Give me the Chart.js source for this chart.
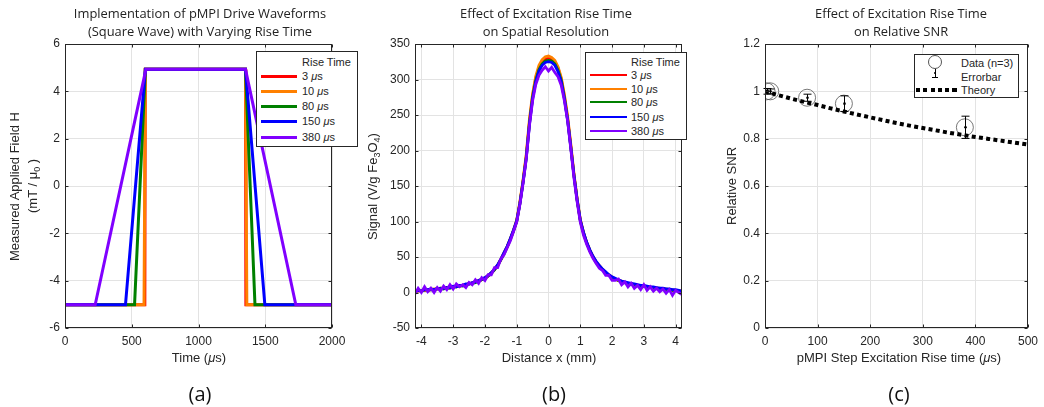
<!DOCTYPE html>
<html><head><meta charset="utf-8">
<script src="https://cdn.jsdelivr.net/npm/chart.js@4.4.1/dist/chart.umd.min.js"></script>
<style>
html,body{margin:0;padding:0;background:#fff}
body{width:1044px;height:407px;overflow:hidden;position:relative;font-family:"Liberation Sans",Arial,sans-serif;color:#262626}
canvas{position:absolute;left:0;top:0}
.t{position:absolute;top:5px;font-family:"Open Sans",sans-serif;font-size:12.9px;text-align:center;line-height:17.5px;white-space:nowrap;transform:translateX(-50%);color:#222}
.lab{position:absolute;font-family:"Open Sans",sans-serif;font-size:20px;transform:translate(-50%,-50%);color:#111}
.ax{position:absolute;font-size:13px;white-space:nowrap;transform:translate(-50%,-50%)}
.ay{position:absolute;font-size:13px;white-space:nowrap;line-height:16px;transform-origin:0 0}
.leg{position:absolute;background:#fff;border:1px solid #262626;font-size:11px;box-sizing:border-box;z-index:5}
.leg span{position:absolute;white-space:nowrap;transform:translateY(-50%)}
.leg div{position:absolute}
sub{font-size:9px;vertical-align:-3px;line-height:0}
</style>
</head><body>
<canvas id="ca" width="1044" height="407"></canvas>
<canvas id="cb" width="1044" height="407"></canvas>
<canvas id="cc" width="1044" height="407"></canvas>

<div class="t" style="left:200px">Implementation of pMPI Drive Waveforms<br>(Square Wave) with Varying Rise Time</div>
<div class="t" style="left:546px">Effect of Excitation Rise Time<br>on Spatial Resolution</div>
<div class="t" style="left:901px">Effect of Excitation Rise Time<br>on Relative SNR</div>

<div class="ax" style="left:199px;top:357px">Time (<i>μ</i>s)</div>
<div class="ax" style="left:549px;top:357px">Distance x (mm)</div>
<div class="ax" style="left:899px;top:357px">pMPI Step Excitation Rise time (<i>μ</i>s)</div>

<div class="ay" data-cx="15" data-cy="186">Measured Applied Field H</div>
<div class="ay" data-cx="33" data-cy="186">(mT / μ<sub>0</sub> )</div>
<div class="ay" data-cx="373" data-cy="186">Signal (V/g Fe<sub>3</sub>O<sub>4</sub>)</div>
<div class="ay" data-cx="732" data-cy="186">Relative SNR</div>

<div class="lab" style="left:200px;top:393px">(a)</div>
<div class="lab" style="left:554px;top:393px">(b)</div>
<div class="lab" style="left:899px;top:393px">(c)</div>

<div class="leg" style="left:914px;top:54px;width:105px;height:44px">
  <div style="left:13px;top:0px;width:14px;height:14px;border:0.8px solid #555;border-radius:50%;box-sizing:border-box"></div>
  <div style="left:19.5px;top:14px;width:1px;height:9px;background:#000"></div>
  <div style="left:17px;top:22px;width:6px;height:1px;background:#000"></div>
  <div style="left:18.8px;top:16.5px;width:2.5px;height:2.5px;background:#000;border-radius:50%"></div>
  <span style="left:46px;top:8px">Data (n=3)</span>
  <span style="left:46px;top:22px">Errorbar</span>
  <div style="left:1px;top:33px;width:42px;height:4px;background:repeating-linear-gradient(to right,#000 0 4px,transparent 4px 7.3px)"></div>
  <span style="left:46px;top:35px">Theory</span>
</div>

<script>
// ---------- data ----------
const riseLabels = ['3', '10', '80', '150', '380'];
const riseColors = ['#ff0000', '#ff8000', '#008000', '#0000ff', '#8000ff'];

// (a) drive waveforms: corner times (µs) and field levels (mT/µ0)
const wave3T   = [0, 598, 601, 1352, 1355, 2000];
const wave10T  = [0, 592, 602, 1352, 1362, 2000];
const wave80T  = [0, 521, 602, 1352, 1423, 2000];
const wave150T = [0, 453, 602, 1352, 1497, 2000];
const wave380T = [0, 226, 606, 1352, 1729, 2000];
const waveH    = [-5.02, -5.02, 4.93, 4.93, -5.02, -5.02];
const tickTimeA  = [0, 500, 1000, 1500, 2000];
const tickFieldA = [-6, -4, -2, 0, 2, 4, 6];

// (b) point spread functions
const distB = [-4.2,-4.1,-4.0,-3.9,-3.8,-3.7,-3.6,-3.5,-3.4,-3.3,-3.2,-3.1,-3.0,-2.9,-2.8,-2.7,-2.6,-2.5,-2.4,-2.3,-2.2,-2.1,-2.0,-1.9,-1.8,-1.7,-1.6,-1.5,-1.4,-1.3,-1.2,-1.1,-1.0,-0.9,-0.8,-0.7,-0.6,-0.5,-0.4,-0.3,-0.2,-0.1,0,0.1,0.2,0.3,0.4,0.5,0.6,0.7,0.8,0.9,1.0,1.1,1.2,1.3,1.4,1.5,1.6,1.7,1.8,1.9,2.0,2.1,2.2,2.3,2.4,2.5,2.6,2.7,2.8,2.9,3.0,3.1,3.2,3.3,3.4,3.5,3.6,3.7,3.8,3.9,4.0,4.1,4.2];
const sig3 = [2,2,3,3,3,4,4,5,5,6, 6,7,8,8,9,10,11,12,13,15, 16,18,20,23,27,32,38,46,55,64, 75,87,101,126,157,192,240,277,302,317, 325,329,330,329,325,316,301,276,246,207, 166,131,102,84,70,59,50,43,37,32, 28,24,21,19,17,15,14,13,12,11, 10,9,9,8,7,7,6,5,5,4, 4,3,3,2,2];
const sig10 = [2,3,3,3,4,4,5,5,6,6, 7,7,8,9,9,10,11,12,14,15, 17,18,21,24,28,33,39,47,56,65, 76,88,102,128,159,195,244,280,305,320, 328,332,333,331,327,318,303,279,249,210, 168,133,103,85,71,60,51,43,38,33, 28,25,22,19,17,16,14,13,12,11, 10,10,9,8,8,7,6,6,5,5, 4,4,3,3,2];
const sig80 = [1,3,2,4,3,4,3,5,6,5, 7,6,8,8,10,9,11,12,13,14, 16,18,20,23,27,32,38,46,54,64, 75,87,100,125,156,190,238,275,299,314, 322,326,327,326,322,313,299,274,244,205, 165,130,101,84,70,59,50,42,37,32, 27,24,21,19,17,15,14,13,11,11, 10,9,9,8,7,7,6,5,5,4, 4,3,3,2,1];
const sig150 = [2,3,2,4,4,5,4,6,5,6, 7,7,9,8,10,10,12,12,14,15, 17,19,21,24,28,33,39,47,56,65, 76,88,101,125,155,189,236,273,297,312, 320,324,325,324,320,311,297,273,243,205, 165,131,102,85,71,60,51,44,38,33, 29,25,22,20,18,16,15,14,13,12, 11,10,10,9,8,8,7,6,6,5, 5,4,4,3,2];
const sig380 = [-2,6,0,8,1,6,0,7,2,9, 4,11,5,12,8,11,7,14,11,18, 13,21,17,25,25,35,35,47,53,63, 73,86,99,124,154,188,235,270,293,306, 313,318,312,317,310,304,292,270,242,203, 162,128,99,81,68,57,48,41,34,31, 24,24,17,17,19,11,15,8,13,6, 10,4,11,3,8,2,6,1,5,-1, 4,-4,3,0,-3];
const tickDistB   = [-4, -3, -2, -1, 0, 1, 2, 3, 4];
const tickSignalB = [-50, 0, 50, 100, 150, 200, 250, 300, 350];

// (c) relative SNR
const snrRise = [3, 10, 80, 150, 380];
const snrMean = [1.0, 1.0, 0.973, 0.948, 0.848];
const snrErr  = [0.012, 0.01, 0.015, 0.033, 0.047];
const theoryT   = [0,25,50,75,100,125,150,175,200,225,250,275,300,325,350,375,400,425,450,475,500];
const theorySnr = [1.000,0.984,0.969,0.955,0.942,0.928,0.915,0.902,0.890,0.878,0.866,0.855,0.845,0.835,0.825,0.816,0.807,0.799,0.791,0.783,0.775];
const tickRiseC = [0, 100, 200, 300, 400, 500];
const tickSnrC  = [0, 0.2, 0.4, 0.6, 0.8, 1, 1.2];

// ---------- helpers ----------
const pts = (xs, ys) => xs.map((x, i) => ({x: x, y: ys[i]}));
const FONT = {family: '"Liberation Sans", Arial, sans-serif', size: 12};
function lin(min, max, ticks, pad) {
  return {
    type: 'linear', min: min, max: max,
    afterBuildTicks: s => { s.ticks = ticks.map(v => ({value: v})); },
    grid: {color: '#e3e3e3', lineWidth: 1, drawTicks: false},
    border: {display: false},
    ticks: {color: '#262626', font: FONT, padding: pad, autoSkip: false, maxRotation: 0,
            callback: v => String(v)}
  };
}
const boxPlugin = {
  id: 'box',
  afterDraw(chart) {
    const {ctx, chartArea: a, scales: {x, y}} = chart;
    ctx.save();
    ctx.strokeStyle = '#262626';
    ctx.lineWidth = 1;
    const L = Math.round(a.left) + 0.5, R = Math.round(a.right) - 0.5;
    const T = Math.round(a.top) + 0.5, B = Math.round(a.bottom) - 0.5;
    ctx.strokeRect(L, T, R - L, B - T);
    ctx.beginPath();
    x.ticks.forEach(t => {
      const p = Math.round(x.getPixelForValue(t.value)) + 0.5;
      ctx.moveTo(p, B); ctx.lineTo(p, B - 3);
      ctx.moveTo(p, T); ctx.lineTo(p, T + 3);
    });
    y.ticks.forEach(t => {
      const p = Math.round(y.getPixelForValue(t.value)) + 0.5;
      ctx.moveTo(L, p); ctx.lineTo(L + 3, p);
      ctx.moveTo(R, p); ctx.lineTo(R - 3, p);
    });
    ctx.stroke();
    ctx.restore();
  }
};
function baseOpts(xs, ys) {
  return {
    responsive: false, animation: false, devicePixelRatio: 1, events: [],
    layout: {padding: {left: 40, right: 40, top: 40, bottom: 40}},
    plugins: {legend: {display: false}, title: {display: false}, tooltip: {enabled: false}},
    scales: {x: xs, y: ys}
  };
}
function fitArea(chart, t) {
  for (let k = 0; k < 4; k++) {
    const a = chart.chartArea;
    const p = chart.options.layout.padding;
    chart.options.layout.padding = {
      left: p.left + (t.left - a.left),
      right: p.right + (a.right - t.right),
      top: p.top + (t.top - a.top),
      bottom: p.bottom + (a.bottom - t.bottom)
    };
    chart.update('none');
  }
}
function initPad(chart, t) {
  chart.options.layout.padding = {left: t.left - 35, right: 1044 - t.right - 15, top: t.top, bottom: 407 - t.bottom - 25};
  chart.update('none');
  fitArea(chart, t);
}

// ---------- chart (a) ----------
const waveTimes = [wave3T, wave10T, wave80T, wave150T, wave380T];
const chartA = new Chart(document.getElementById('ca'), {
  type: 'scatter',
  data: {datasets: waveTimes.map((ts, i) => ({
    data: pts(ts, waveH), showLine: true, borderColor: riseColors[i], borderWidth: 3,
    pointRadius: 0, tension: 0, fill: false, order: 5 - i
  }))},
  options: baseOpts(lin(0, 2000, tickTimeA, 6), lin(-6, 6, tickFieldA, 5)),
  plugins: [boxPlugin]
});
initPad(chartA, {left: 65, right: 332, top: 44, bottom: 328});

// ---------- chart (b) ----------
const sigSeries = [sig3, sig10, sig80, sig150, sig380];
const chartB = new Chart(document.getElementById('cb'), {
  type: 'scatter',
  data: {datasets: sigSeries.map((s, i) => ({
    data: pts(distB, s), showLine: true, borderColor: riseColors[i], borderWidth: 2.8,
    pointRadius: 0, tension: 0, fill: false, order: 5 - i
  }))},
  options: baseOpts(lin(-4.2, 4.2, tickDistB, 6), lin(-50, 350, tickSignalB, 5)),
  plugins: [boxPlugin]
});
initPad(chartB, {left: 415, right: 682, top: 44, bottom: 328});

// ---------- chart (c) ----------
const errPlugin = {
  id: 'err',
  afterDatasetsDraw(chart) {
    const {ctx, scales: {x, y}} = chart;
    ctx.save();
    ctx.strokeStyle = '#000'; ctx.fillStyle = '#000'; ctx.lineWidth = 1;
    snrRise.forEach((t, i) => {
      const px = Math.round(x.getPixelForValue(t)) + 0.5;
      const top = y.getPixelForValue(snrMean[i] + snrErr[i]);
      const bot = y.getPixelForValue(snrMean[i] - snrErr[i]);
      const mid = y.getPixelForValue(snrMean[i]);
      ctx.beginPath();
      ctx.moveTo(px, top); ctx.lineTo(px, bot);
      ctx.moveTo(px - 4, top); ctx.lineTo(px + 4, top);
      ctx.moveTo(px - 4, bot); ctx.lineTo(px + 4, bot);
      ctx.stroke();
      ctx.beginPath(); ctx.arc(px, mid, 1.3, 0, Math.PI * 2); ctx.fill();
    });
    ctx.restore();
  }
};
const chartC = new Chart(document.getElementById('cc'), {
  type: 'scatter',
  data: {datasets: [
    {data: pts(snrRise, snrMean), showLine: false, pointRadius: 8.5, pointBorderColor: '#555',
     pointBackgroundColor: 'rgba(0,0,0,0)', pointBorderWidth: 0.8, order: 2},
    {data: pts(theoryT, theorySnr), showLine: true, borderColor: '#000', borderWidth: 4,
     borderDash: [4, 3.3], borderCapStyle: 'butt', pointRadius: 0, tension: 0, fill: false, order: 1}
  ]},
  options: baseOpts(lin(0, 500, tickRiseC, 6), lin(0, 1.2, tickSnrC, 5)),
  plugins: [errPlugin, boxPlugin]
});
initPad(chartC, {left: 765, right: 1032, top: 44, bottom: 328});

// ---------- rise-time legends ----------
function riseLegend(left, top, w, h, titleY, itemYs, lx0, lx1, tx, lw) {
  const d = document.createElement('div');
  d.className = 'leg';
  Object.assign(d.style, {left: left + 'px', top: top + 'px', width: w + 'px', height: h + 'px'});
  let html = '<span style="left:' + tx + 'px;top:' + titleY + 'px">Rise Time</span>';
  riseLabels.forEach((lab, i) => {
    html += '<div style="left:' + lx0 + 'px;top:' + (itemYs[i] - lw / 2) + 'px;width:' + (lx1 - lx0) + 'px;height:' + lw + 'px;background:' + riseColors[i] + '"></div>';
    html += '<span style="left:' + tx + 'px;top:' + itemYs[i] + 'px">' + lab + ' <i>μ</i>s</span>';
  });
  d.innerHTML = html;
  document.body.appendChild(d);
}
riseLegend(256, 51, 102, 96, 10, [24, 39, 54, 69, 85], 4, 40, 45, 3);
riseLegend(585, 52, 102, 88, 9, [22, 36, 49, 64, 78], 4, 41, 45, 2.6);

// ---------- crisp rotated y-axis titles ----------
document.querySelectorAll('.ay').forEach(el => {
  const w = el.offsetWidth, h = el.offsetHeight;
  const cx = +el.dataset.cx, cy = +el.dataset.cy;
  // rotate -90deg about top-left, then place so the box centre lands at (cx, cy)
  const left = Math.round(cx - h / 2);
  const top = Math.round(cy + w / 2);
  el.style.left = left + 'px';
  el.style.top = top + 'px';
  el.style.transform = 'rotate(-90deg)';
});
</script>
</body></html>
